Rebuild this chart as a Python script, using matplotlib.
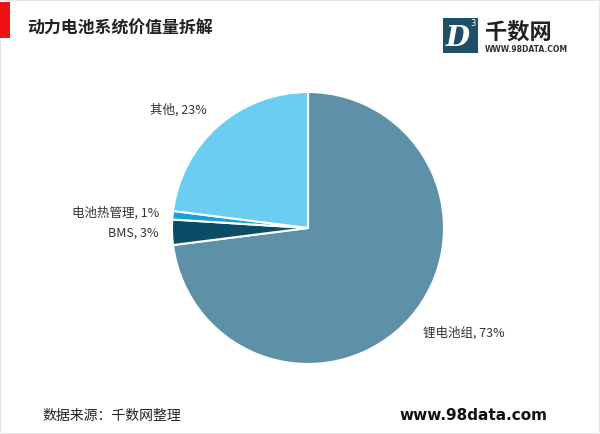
import matplotlib
matplotlib.use('Agg')
import matplotlib.pyplot as plt
from matplotlib.patches import Rectangle

plt.rcParams['font.family'] = ['Noto Sans CJK SC', 'DejaVu Sans']

#   Dati del grafico
categorie = ['锂电池组', 'BMS', '电池热管理', '其他']
quote = [73, 3, 1, 23]
colori = ['#5e90a8', '#0b4d66', '#1ca0d2', '#6bcdf2']

W, H = 600, 434
fig = plt.figure(figsize=(W / 100, H / 100), dpi=100)
fig.patch.set_facecolor('white')

def px(x, y):
    #   Conversione da pixel (origine in alto) a coordinate figura
    return x / W, 1 - y / H

#   Cornice grigia leggera
fig.add_artist(Rectangle((0, 0), 1, 1, transform=fig.transFigure, fill=False,
                         edgecolor='#e6e6e6', lw=1.5))

#   Titolo con barra rossa
x0, y0 = px(0, 38)
fig.add_artist(Rectangle((x0, y0), 10 / W, 36 / H, transform=fig.transFigure,
                         color='#ee1111', lw=0))
fig.text(*px(27, 29), '动力电池系统价值量拆解', fontsize=12.2, fontweight='bold',
         color='#222222', va='center', ha='left')

#   Logo
lx, ly = px(443, 53)
fig.add_artist(Rectangle((lx, ly), 35 / W, 35 / H, transform=fig.transFigure,
                         color='#1d4f66', lw=0))
fig.text(*px(458, 38), 'D', fontsize=20, fontweight='bold', style='italic',
         color='white', ha='center', va='center', family='DejaVu Serif')
fig.text(*px(473, 24), '3', fontsize=6, color='white', ha='center', va='center',
         family='DejaVu Sans')
fig.text(*px(485, 32), '千数网', fontsize=16, fontweight='bold', color='#222222',
         ha='left', va='center')
fig.text(*px(485, 49), 'WWW.98DATA.COM', fontsize=5.5, fontweight='bold',
         color='#333333', ha='left', va='center', family='DejaVu Sans')

#   Grafico a torta
cx, cy = 308, 228
r = 136
ax = fig.add_axes([(cx - r) / W, (H - cy - r) / H, 2 * r / W, 2 * r / H])
ax.pie(quote, colors=colori, startangle=90, counterclock=False,
       wedgeprops=dict(edgecolor='white', linewidth=1.5))
ax.set_xlim(-1, 1)
ax.set_ylim(-1, 1)
ax.set_aspect('equal')
ax.axis('off')

#   Etichette
etichette = ['%s, %d%%' % (c, q) for c, q in zip(categorie, quote)]
fs = 9
fig.text(*px(423, 333), etichette[0], fontsize=fs, color='#333333', ha='left', va='center')
fig.text(*px(159, 233), etichette[1], fontsize=fs, color='#333333', ha='right', va='center')
fig.text(*px(159, 213), etichette[2], fontsize=fs, color='#333333', ha='right', va='center')
fig.text(*px(150, 110), etichette[3], fontsize=fs, color='#333333', ha='left', va='center')

#   Piè di pagina
fig.text(*px(42, 416), '数据来源：千数网整理', fontsize=10, color='#222222',
         ha='left', va='center')
fig.text(*px(547, 416), 'www.98data.com', fontsize=11, fontweight='bold',
         color='#111111', ha='right', va='center', family='DejaVu Sans')

fig.savefig('out.png', dpi=100, facecolor='white')
